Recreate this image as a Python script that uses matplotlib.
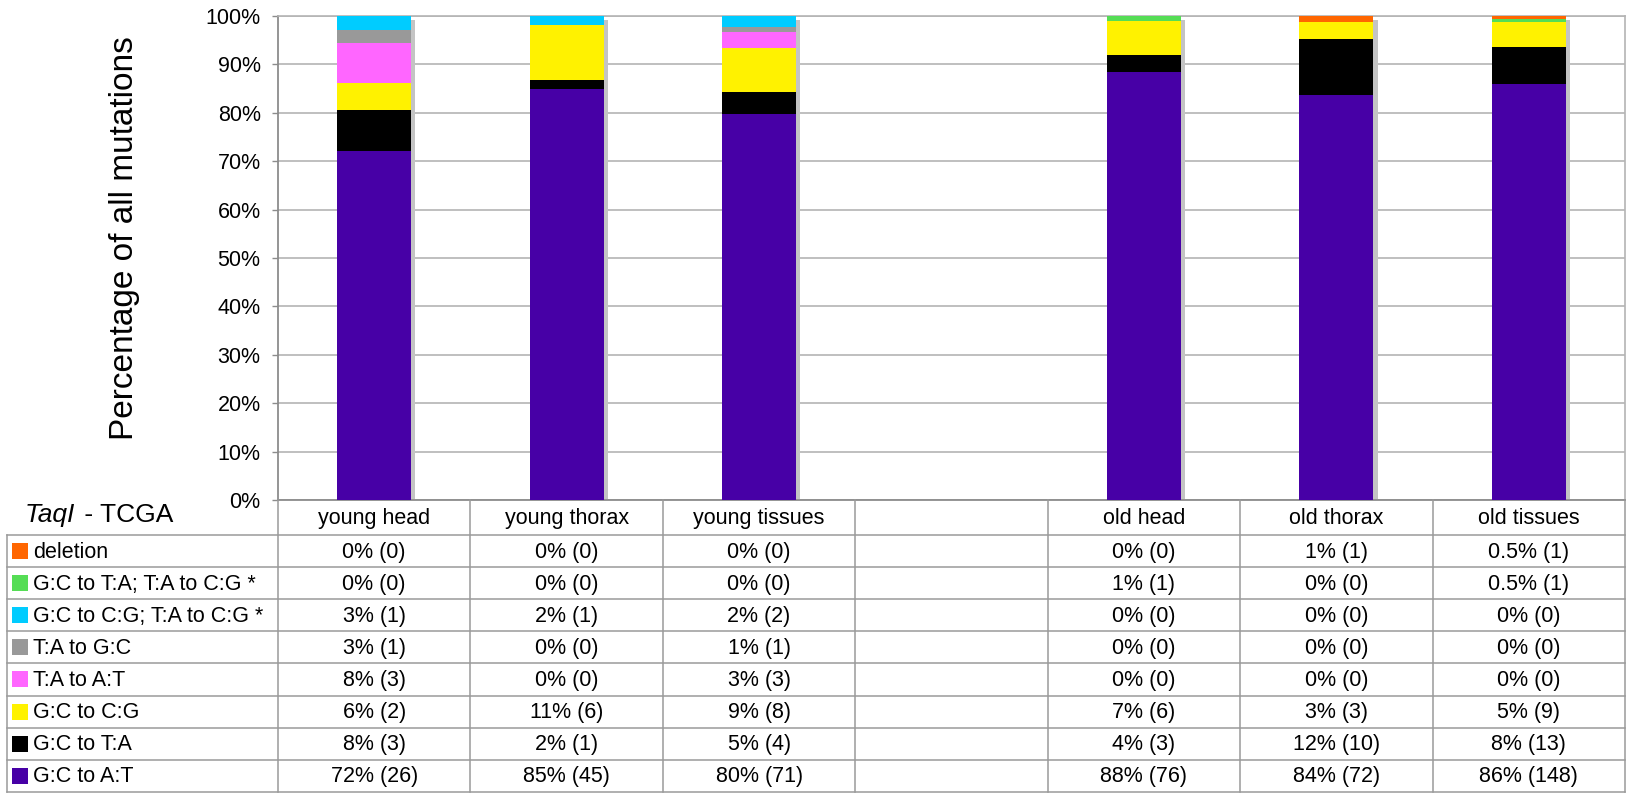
import matplotlib
matplotlib.use("Agg")
import matplotlib.pyplot as plt
from matplotlib.patches import Rectangle
import matplotlib.patheffects as pe

plt.rcParams['font.family'] = ['Liberation Sans', 'DejaVu Sans']

# ---------------- data ----------------
categories = ["young head", "young thorax", "young tissues", "",
              "old head", "old thorax", "old tissues"]

# series, bottom to top of the stacks
series_names = ["G:C to A:T", "G:C to T:A", "G:C to C:G", "T:A to A:T",
                "T:A to G:C", "G:C to C:G; T:A to C:G *",
                "G:C to T:A; T:A to C:G *", "deletion"]
series_colors = ["#4700A6", "#000000", "#FFF200", "#FF66FF",
                 "#999999", "#00CCFF", "#55DD55", "#FF6600"]

gc_at = [72.2, 84.9, 79.8, 0, 88.4, 83.7, 86.0]
gc_ta = [8.3, 1.9, 4.5, 0, 3.5, 11.6, 7.6]
gc_cg = [5.6, 11.3, 9.0, 0, 7.0, 3.5, 5.2]
ta_at = [8.3, 0.0, 3.4, 0, 0.0, 0.0, 0.0]
ta_gc = [2.8, 0.0, 1.1, 0, 0.0, 0.0, 0.0]
gc_cg_ta_cg = [2.8, 1.9, 2.2, 0, 0.0, 0.0, 0.0]
gc_ta_ta_cg = [0.0, 0.0, 0.0, 0, 1.2, 0.0, 0.6]
deletion = [0.0, 0.0, 0.0, 0, 0.0, 1.2, 0.6]
series_values = [gc_at, gc_ta, gc_cg, ta_at, ta_gc,
                 gc_cg_ta_cg, gc_ta_ta_cg, deletion]

# table texts (same series order)
txt_gc_at = ["72% (26)", "85% (45)", "80% (71)", "", "88% (76)", "84% (72)", "86% (148)"]
txt_gc_ta = ["8% (3)", "2% (1)", "5% (4)", "", "4% (3)", "12% (10)", "8% (13)"]
txt_gc_cg = ["6% (2)", "11% (6)", "9% (8)", "", "7% (6)", "3% (3)", "5% (9)"]
txt_ta_at = ["8% (3)", "0% (0)", "3% (3)", "", "0% (0)", "0% (0)", "0% (0)"]
txt_ta_gc = ["3% (1)", "0% (0)", "1% (1)", "", "0% (0)", "0% (0)", "0% (0)"]
txt_gc_cg_ta_cg = ["3% (1)", "2% (1)", "2% (2)", "", "0% (0)", "0% (0)", "0% (0)"]
txt_gc_ta_ta_cg = ["0% (0)", "0% (0)", "0% (0)", "", "1% (1)", "0% (0)", "0.5% (1)"]
txt_deletion = ["0% (0)", "0% (0)", "0% (0)", "", "0% (0)", "1% (1)", "0.5% (1)"]
series_texts = [txt_gc_at, txt_gc_ta, txt_gc_cg, txt_ta_at, txt_ta_gc,
                txt_gc_cg_ta_cg, txt_gc_ta_ta_cg, txt_deletion]

y_ticks = [0, 10, 20, 30, 40, 50, 60, 70, 80, 90, 100]
y_label = "Percentage of all mutations"

# ---------------- figure ----------------
W, H = 1633, 800
fig = plt.figure(figsize=(W / 100, H / 100), dpi=100)

ax_l, ax_r, ax_t, ax_b = 278, 1625, 16, 500
ax = fig.add_axes([ax_l / W, 1 - ax_b / H, (ax_r - ax_l) / W, (ax_b - ax_t) / H])

grid_c = "#b4b4b4"
line_c = "#8c8c8c"
fs = 15.5

x = list(range(len(categories)))
width = 0.385

totals = [sum(s[i] for s in series_values) for i in x]
# drop shadow behind the bars
ax.bar(x, totals, width, color="none", edgecolor="none", zorder=2,
       path_effects=[pe.SimplePatchShadow(offset=(3, -3), shadow_rgbFace="#c4c4c4", alpha=1.0)])

bottom = [0.0] * len(x)
for vals, col in zip(series_values, series_colors):
    ax.bar(x, vals, width, bottom=bottom, color=col, edgecolor="none", zorder=3)
    bottom = [b + v for b, v in zip(bottom, vals)]

ax.set_xlim(-0.5, len(categories) - 0.5)
ax.set_ylim(0, 100)
ax.set_yticks(y_ticks)
ax.set_yticklabels([f"{t}%" for t in y_ticks], fontsize=fs)
ax.set_xticks([])
ax.yaxis.grid(True, color=grid_c, linewidth=1.2, zorder=0)
ax.set_axisbelow(True)
ax.tick_params(axis="y", direction="out", length=4.5, width=1, color=line_c, pad=8)
for side in ["left", "bottom"]:
    ax.spines[side].set_color(line_c)
    ax.spines[side].set_linewidth(1.3)
ax.spines["right"].set_color(grid_c)
ax.spines["top"].set_color(grid_c)
ax.spines["right"].set_linewidth(1.2)
ax.spines["top"].set_linewidth(1.2)

fig.text(125 / W, 1 - 238 / H, y_label, rotation=90, ha="center", va="center", fontsize=24)

# ---------------- table ----------------
tab = fig.add_axes([0, 0, 1, 1])
tab.set_xlim(0, W)
tab.set_ylim(H, 0)
tab.axis("off")

col_w = (ax_r - ax_l) / len(categories)
col_edges = [ax_l + i * col_w for i in range(len(categories) + 1)]
hdr_top, hdr_bot = 500, 535
row_h = 32.1
n_rows = len(series_names)
row_edges = [hdr_bot + i * row_h for i in range(n_rows + 1)]
tbl_left = 7
tcol = "#9a9a9a"

for xe in col_edges:
    tab.plot([xe, xe], [hdr_top, row_edges[-1]], color=tcol, lw=1.1)
tab.plot([tbl_left, tbl_left], [hdr_bot, row_edges[-1]], color=tcol, lw=1.1)
for ye in row_edges:
    tab.plot([tbl_left, ax_r], [ye, ye], color=tcol, lw=1.1)

# header
for i, c in enumerate(categories):
    tab.text((col_edges[i] + col_edges[i + 1]) / 2, (hdr_top + hdr_bot) / 2 + 1, c,
             ha="center", va="center", fontsize=fs)
tab.text(25, 515, "TaqI", style="italic", ha="left", va="center", fontsize=19)
tab.text(25 + 52, 515, " - TCGA", ha="left", va="center", fontsize=19)

# rows: top row is the last series
for r in range(n_rows):
    si = n_rows - 1 - r
    yc = (row_edges[r] + row_edges[r + 1]) / 2
    tab.add_patch(Rectangle((12, yc - 8), 16, 16, color=series_colors[si], lw=0))
    tab.text(33, yc + 1, series_names[si], ha="left", va="center", fontsize=fs)
    for i, t in enumerate(series_texts[si]):
        tab.text((col_edges[i] + col_edges[i + 1]) / 2, yc + 1, t,
                 ha="center", va="center", fontsize=fs)

fig.savefig("out.png", dpi=100)
